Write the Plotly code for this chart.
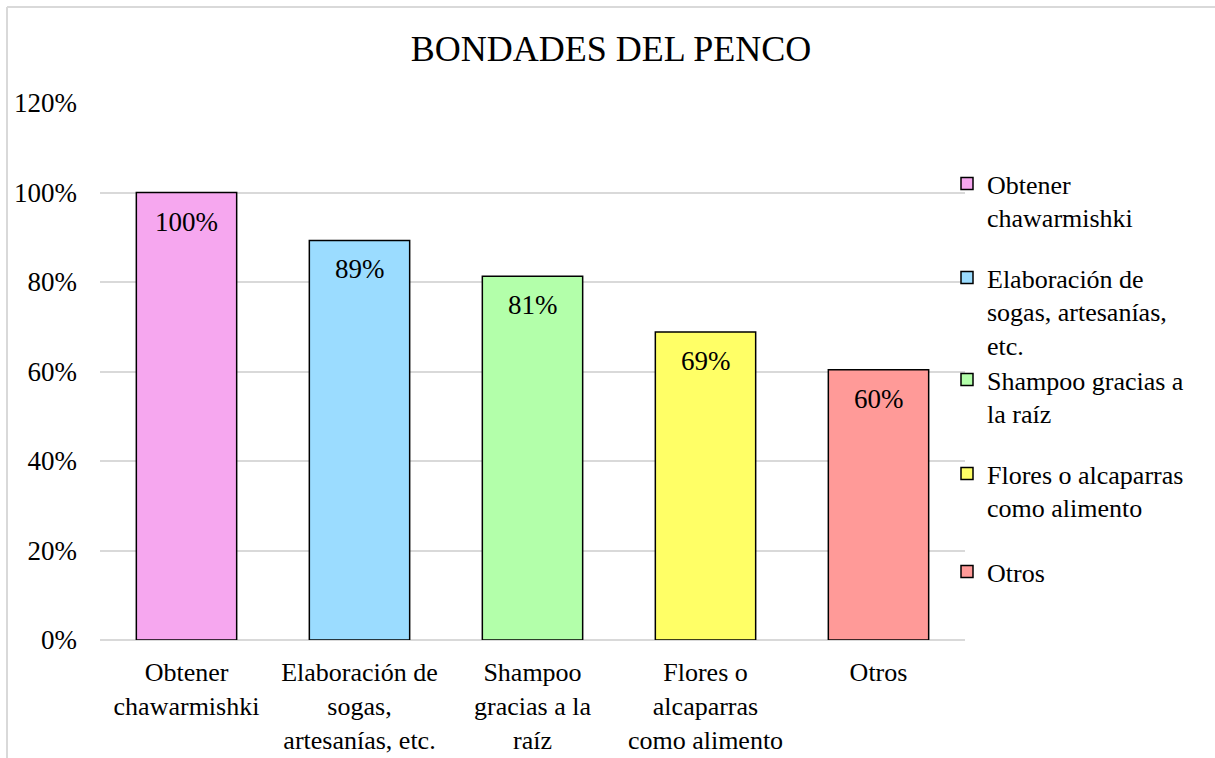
import plotly.graph_objects as go

# datos del gráfico
categorias = [
    "Obtener chawarmishki",
    "Elaboración de sogas, artesanías, etc.",
    "Shampoo gracias a la raíz",
    "Flores o alcaparras como alimento",
    "Otros",
]
etiquetas_eje = [
    "Obtener<br>chawarmishki",
    "Elaboración de<br>sogas,<br>artesanías, etc.",
    "Shampoo<br>gracias a la<br>raíz",
    "Flores o<br>alcaparras<br>como alimento",
    "Otros",
]
etiquetas_leyenda = [
    "Obtener<br>chawarmishki",
    "Elaboración de<br>sogas, artesanías,<br>etc.",
    "Shampoo gracias a<br>la raíz",
    "Flores o alcaparras<br>como alimento",
    "Otros",
]
valores = [1.00, 0.893, 0.813, 0.688, 0.604]
colores = ["#F6A7EF", "#9BDCFF", "#B3FFAA", "#FFFF66", "#FF9A98"]

FUENTE = "Liberation Serif, Times New Roman, serif"

# lienzo a pantalla completa (se quita el margen del body al final)
W, H = 1215, 758
L, T = 100, 103
R, B = W - 965, H - 640
pw, ph = W - L - R, H - T - B


def px_x(x):
    return (x - L) / pw


def px_y(y):
    return (H - B - y) / ph


def cx(x):
    return x / W


def cy(y):
    return 1 - y / H


# centro (px) de la primera línea de cada entrada de leyenda
leyenda_y = [186, 280, 382, 476, 574]

fig = go.Figure()
for i, (cat, tick, leg, val, col) in enumerate(
        zip(categorias, etiquetas_eje, etiquetas_leyenda, valores, colores)):
    lname = "legend" if i == 0 else f"legend{i + 1}"
    fig.add_trace(go.Bar(
        x=[tick], y=[val], name=leg,
        marker=dict(color=col, line=dict(color="black", width=1.5)),
        legend=lname,
        hovertemplate=f"{cat}: %{{y:.0%}}<extra></extra>",
    ))
    fig.add_annotation(
        x=tick, y=val, text=f"{val:.0%}", showarrow=False,
        yanchor="top", yshift=-12,
        font=dict(family=FUENTE, size=27, color="black"),
    )

# borde exterior del gráfico
fig.add_shape(type="line", xref="paper", yref="paper",
              x0=px_x(7), x1=px_x(7), y0=px_y(7), y1=px_y(800),
              line=dict(color="#d9d9d9", width=2))
fig.add_shape(type="line", xref="paper", yref="paper",
              x0=px_x(7), x1=px_x(1300), y0=px_y(7), y1=px_y(7),
              line=dict(color="#d9d9d9", width=2))

leg_common = dict(xref="container", yref="container",
                  x=cx(947), xanchor="left", yanchor="top", valign="top",
                  font=dict(family=FUENTE, size=26, color="black"),
                  bgcolor="rgba(0,0,0,0)", itemwidth=30)
legends = {}
for i, yc in enumerate(leyenda_y):
    key = "legend" if i == 0 else f"legend{i + 1}"
    legends[key] = dict(leg_common, y=cy(yc - 26))

fig.update_layout(
    width=W, height=H,
    margin=dict(l=L, r=R, t=T, b=B, autoexpand=False),
    paper_bgcolor="white", plot_bgcolor="white",
    font=dict(family=FUENTE, size=27, color="black"),
    title=dict(text="BONDADES DEL PENCO", x=611 / W, xref="container", xanchor="center",
               y=1 - 48 / H, yanchor="middle",
               font=dict(family=FUENTE, size=36, color="black")),
    bargap=0.42,
    barmode="overlay",
    showlegend=True,
    **legends,
    xaxis=dict(showgrid=False, showline=False, ticks="", automargin=False,
               categoryorder="array", categoryarray=etiquetas_eje,
               ticklabelstandoff=14,
               tickfont=dict(family=FUENTE, size=26)),
    yaxis=dict(range=[0, 1.2], dtick=0.2, tickformat=".0%", automargin=False,
               showgrid=True, gridcolor="#d9d9d9", gridwidth=1.5,
               zeroline=True, zerolinecolor="#d9d9d9", zerolinewidth=1.5,
               showline=False, ticks="", ticklabelstandoff=22,
               tickfont=dict(family=FUENTE, size=27)),
)

fig.write_html("out.html", config={"displayModeBar": False},
               post_script="document.body.style.margin='0';")
